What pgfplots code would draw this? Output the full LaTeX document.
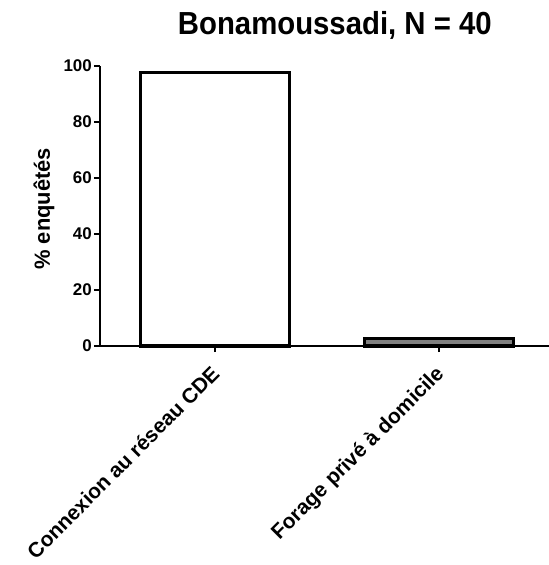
\documentclass[border=0pt]{standalone}
\usepackage{fontspec}
\setmainfont{Liberation Sans}
\newfontfamily\titlefont[FakeStretch=0.92]{Liberation Sans}
\usepackage{pgfplots}
\pgfplotsset{compat=1.18}

\begin{document}
\begin{tikzpicture}
  \begin{axis}[
    at={(100bp,219bp)}, anchor=south west,
    scale only axis,
    width=449bp, height=280bp,
    xmin=-0.513, xmax=1.491,
    ymin=0, ymax=100,
    axis lines=left,
    axis line style={-, line width=2bp},
    tick align=outside,
    major tick length=6bp,
    tick style={line width=2bp, black},
    ytick={0,20,...,100},
    xtick={0,1},
    xticklabels={Connexion au réseau CDE, Forage privé à domicile},
    x tick label style={xshift=-5bp, yshift=-12bp, rotate=45, anchor=north east,
      font=\fontsize{21}{23}\selectfont\bfseries, inner sep=0bp},
    y tick label style={font=\fontsize{17}{19}\selectfont\bfseries, inner sep=2bp},
    /pgf/number format/assume math mode=true,
    ylabel={\% enquêtés},
    ylabel style={at={(axis description cs:0,0.49)}, anchor=center, yshift=56bp,
      font=\fontsize{22}{24}\selectfont\bfseries},
    clip=false,
  ]
  \addplot[ybar, bar shift=0pt, bar width=0.665, fill=white, draw=black, line width=3bp]
    coordinates {(0,97.5)};
  \addplot[ybar, bar shift=0pt, bar width=0.665, fill=gray, draw=black, line width=3bp]
    coordinates {(1,2.5)};
  \node[anchor=base, font=\titlefont\fontsize{32}{34}\selectfont\bfseries]
    at (rel axis cs:0.523,1) [yshift=31bp] {Bonamoussadi, N = 40};
  \end{axis}
  \pgfresetboundingbox
  \path (0,0) rectangle (549bp,565bp);
\end{tikzpicture}
\end{document}
